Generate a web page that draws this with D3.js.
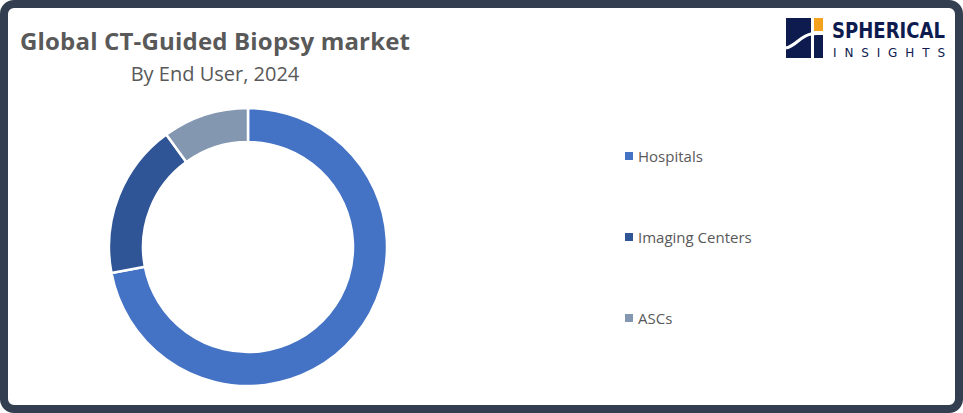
<!DOCTYPE html>
<html><head><meta charset="utf-8">
<script src="https://cdn.jsdelivr.net/npm/d3@7"></script>
<style>body{margin:0;background:#fff}svg{display:block}</style>
</head><body>
<svg id="c" width="963" height="413"></svg>
<script>
var categories = ["Hospitals", "Imaging Centers", "ASCs"];
var shares = [72, 18, 10];
var colors = ["#4472c4", "#2f5597", "#8497b0"];

var svg = d3.select("#c");
// dark frame
svg.append("rect").attr("x", 4).attr("y", 4).attr("width", 955).attr("height", 405)
    .attr("rx", 10).attr("fill", "#fff").attr("stroke", "#333f50").attr("stroke-width", 8);

svg.append("text").attr("x", 20).attr("y", 50).attr("font-family", "Open Sans")
    .attr("font-size", 24).attr("font-weight", "bold").attr("fill", "#595959")
    .attr("textLength", 390).text("Global CT-Guided Biopsy market");
svg.append("text").attr("x", 215).attr("y", 81).attr("text-anchor", "middle")
    .attr("font-family", "Open Sans").attr("font-size", 20).attr("fill", "#595959")
    .text("By End User, 2024");

// logo
var logo = svg.append("g").attr("transform", "translate(786,18)");
logo.append("rect").attr("width", 25).attr("height", 40).attr("fill", "#0d1b4f");
logo.append("rect").attr("x", 28).attr("y", 17).attr("width", 9).attr("height", 23).attr("fill", "#0d1b4f");
logo.append("rect").attr("x", 28).attr("y", 0).attr("width", 9).attr("height", 13).attr("fill", "#f4a21e");
logo.append("path").attr("d", "M0,30 C10,28 14,18 25,16 L37,15").attr("fill", "none")
    .attr("stroke", "#fff").attr("stroke-width", 3);
logo.append("text").attr("x", 46).attr("y", 20).attr("font-family", "DejaVu Sans Condensed")
    .attr("font-size", 22).attr("font-weight", "bold").attr("fill", "#0d1b4f")
    .attr("textLength", 113).attr("lengthAdjust", "spacingAndGlyphs").text("SPHERICAL");
logo.append("text").attr("x", 47).attr("y", 39).attr("font-family", "DejaVu Sans")
    .attr("font-size", 12).attr("fill", "#0d1b4f")
    .attr("textLength", 112).text("INSIGHTS");

// donut
var pie = d3.pie().sort(null).value(function(d) { return d; });
var arc = d3.arc().innerRadius(105).outerRadius(139);
var g = svg.append("g").attr("transform", "translate(248,247)");
g.selectAll("path").data(pie(shares)).enter().append("path")
    .attr("d", arc).attr("fill", function(d, i) { return colors[i]; })
    .attr("stroke", "#fff").attr("stroke-width", 2.5);

// legend
var ly = d3.scalePoint().domain(categories).range([156, 318]);
var lg = svg.selectAll(".lg").data(categories).enter().append("g")
    .attr("transform", function(d) { return "translate(625," + ly(d) + ")"; });
lg.append("rect").attr("x", 0).attr("y", -4).attr("width", 8).attr("height", 8)
    .attr("fill", function(d, i) { return colors[i]; });
lg.append("text").attr("x", 13).attr("y", 6).attr("font-family", "Open Sans")
    .attr("font-size", 15).attr("fill", "#595959").text(function(d) { return d; });
</script>
</body></html>
